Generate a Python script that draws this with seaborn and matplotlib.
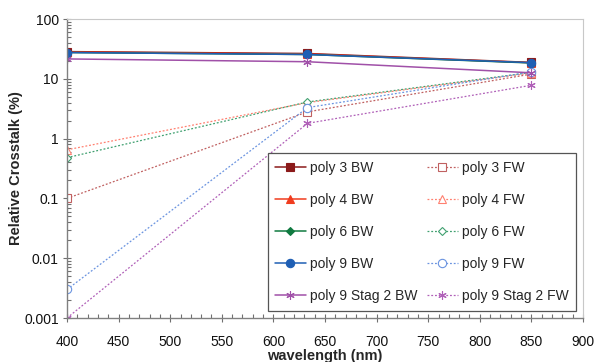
import matplotlib
matplotlib.use("Agg")
import matplotlib.pyplot as plt
import seaborn as sns
import pandas as pd

wavelength = [400, 633, 850]
series_names = ["poly 3 BW", "poly 4 BW", "poly 6 BW", "poly 9 BW", "poly 9 Stag 2 BW",
                "poly 3 FW", "poly 4 FW", "poly 6 FW", "poly 9 FW", "poly 9 Stag 2 FW"]
poly3_bw = [28.5, 26.5, 18.8]
poly4_bw = [28.0, 26.0, 18.6]
poly6_bw = [27.5, 25.5, 18.4]
poly9_bw = [27.5, 25.5, 18.6]
stag_bw = [21.5, 19.3, 12.6]
poly3_fw = [0.1, 2.8, 12.0]
poly4_fw = [0.65, 4.0, 12.5]
poly6_fw = [0.48, 4.1, 12.8]
poly9_fw = [0.003, 3.3, 13.0]
stag_fw = [0.001, 1.8, 7.8]
values = [poly3_bw, poly4_bw, poly6_bw, poly9_bw, stag_bw,
          poly3_fw, poly4_fw, poly6_fw, poly9_fw, stag_fw]

colors = ["#8b1a1a", "#f03c1e", "#107a40", "#1f5fb4", "#a050a8",
          "#c06060", "#ff8070", "#40a070", "#6b94e0", "#b060b8"]
markers = ["s", "^", "D", "o", (6, 2, 0), "s", "^", "D", "o", (6, 2, 0)]
msizes = [5.5, 5.5, 4.2, 6, 6, 5.5, 5.5, 4.5, 6, 6]

rows = []
for name, vals in zip(series_names, values):
    for w, v in zip(wavelength, vals):
        rows.append({"series": name, "wavelength": w, "value": v})
df = pd.DataFrame(rows)

sns.set_style("white")
plt.rcParams["font.family"] = ["Liberation Sans", "DejaVu Sans"]

fig = plt.figure(figsize=(5.96, 3.62), dpi=100)
ax = fig.add_axes([0.1124, 0.1215, 0.8658, 0.826])

order = list(range(5, 10)) + list(range(0, 5))
handles = {}
for i in order:
    name = series_names[i]
    sub = df[df["series"] == name]
    fw = i >= 5
    kw = dict(color=colors[i], marker=markers[i], markersize=msizes[i],
              linewidth=0.9 if fw else 1.1,
              markeredgewidth=0.8,
              markeredgecolor=colors[i],
              markerfacecolor="white" if fw else colors[i])
    if fw:
        kw["linestyle"] = (0, (1.5, 1.5))
    sns.lineplot(data=sub, x="wavelength", y="value", ax=ax, label=name,
                 legend=False, **kw)
    handles[name] = ax.get_lines()[-1]

ax.set_yscale("log")
ax.set_xlim(400, 900)
ax.set_ylim(0.001, 100)
ax.set_xticks(range(400, 901, 50))
ax.set_xticks(range(400, 901, 10), minor=True)
ax.set_yticks([0.001, 0.01, 0.1, 1, 10, 100])
ax.set_yticklabels(["0.001", "0.01", "0.1", "1", "10", "100"])
ax.tick_params(axis="both", which="major", direction="inout", length=6,
               width=0.8, color="#707070", labelsize=10, labelcolor="#111111", pad=3)
ax.tick_params(axis="both", which="minor", direction="in", length=3,
               width=0.8, color="#707070")
ax.tick_params(axis="x", which="both", bottom=True)
ax.tick_params(axis="y", which="both", left=True)
ax.tick_params(axis="x", which="major", pad=9)
for s in ["top", "right"]:
    ax.spines[s].set_color("#c8c8c8")
    ax.spines[s].set_linewidth(0.8)
for s in ["left", "bottom"]:
    ax.spines[s].set_color("#808080")
    ax.spines[s].set_linewidth(1.0)

ax.set_xlabel("wavelength (nm)", fontsize=10.5, fontweight="bold", labelpad=0)
ax.set_ylabel("Relative Crosstalk (%)", fontsize=10.5, fontweight="bold", labelpad=1)

leg_handles = [handles[n] for n in series_names]
leg = ax.legend(leg_handles, series_names, ncol=2, loc="lower right",
                bbox_to_anchor=(0.995, 0.01), fontsize=10, frameon=True,
                fancybox=False, edgecolor="#555555", framealpha=1,
                handlelength=2.2, handletextpad=0.3, columnspacing=0.7,
                labelspacing=1.3, borderpad=0.55, borderaxespad=0.3)
leg.get_frame().set_linewidth(0.9)

fig.savefig("out.png", dpi=100)
